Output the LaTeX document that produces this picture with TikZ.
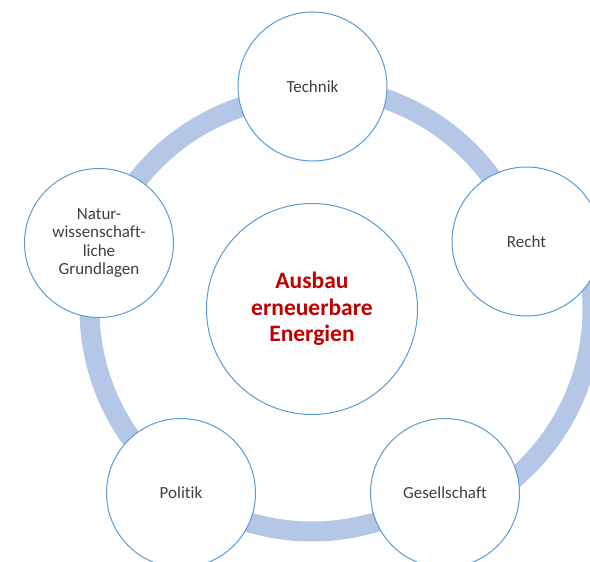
\documentclass[tikz,border=0pt]{standalone}
\usepackage{fontspec}
\setmainfont[Ligatures=NoCommon]{Carlito}
\definecolor{ringcol}{HTML}{B4C7E7}
\definecolor{edgecol}{HTML}{5B9BD5}
\definecolor{txtcol}{HTML}{404040}
\definecolor{redtxt}{HTML}{C00000}
\begin{document}
\begin{tikzpicture}[x=1pt,y=-1pt,
  band/.style={ringcol, line width=20pt},
  outer/.style={circle, draw=edgecol, line width=1pt, fill=white, minimum size=149pt, inner sep=0pt, align=center, text=txtcol, font=\fontsize{17}{18.5}\selectfont},
  inner/.style={circle, draw=edgecol, line width=1pt, fill=white, minimum size=211pt, inner sep=0pt, align=center, text=redtxt, font=\fontsize{23.5}{26.5}\selectfont\bfseries}]
\useasboundingbox (0,0) rectangle (590,562);
\coordinate (mid) at (312,309);
\coordinate (midR) at (370,309);
\coordinate (midTL) at (312,318);
% ring segments
\draw[band] (mid) ++(-90:222.5) arc[start angle=-90, end angle=-18, radius=222.5];
\draw[band] (midR) ++(-18:222.5) arc[start angle=-18, end angle=54, radius=222.5];
\draw[band] (mid) ++(54:222.5) arc[start angle=54, end angle=126, radius=222.5];
\draw[band] (mid) ++(126:222.5) arc[start angle=126, end angle=198, radius=222.5];
\draw[band] (midTL) ++(198:222.5) arc[start angle=198, end angle=270, radius=222.5];
\node[inner] (ctr) at (mid) {Ausbau\\erneuerbare\\Energien};
\node[outer] (technik) at (312.5,86.5) {Technik};
\node[outer] (recht) at (526.5,241.5) {Recht};
\node[outer] (ges) at (445,493) {Gesellschaft};
\node[outer] (pol) at (181,493) {Politik};
\node[outer] (natur) at (99,243) {Natur-\\wissenschaft-\\liche\\Grundlagen};
\end{tikzpicture}
\end{document}
